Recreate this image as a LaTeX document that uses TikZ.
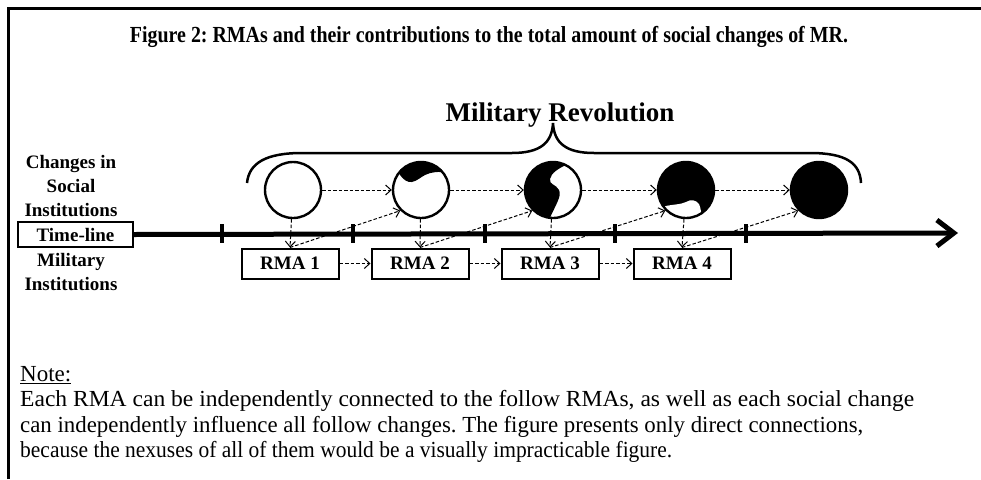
\documentclass[tikz,border=0pt]{standalone}
\usepackage{fontspec}
\usepackage{graphicx}
\setmainfont{Liberation Serif}
\usetikzlibrary{arrows.meta}
\pgfdeclarelayer{bg}
\pgfsetlayers{bg,main}
\frenchspacing
\begin{document}
\begin{tikzpicture}[x=1pt,y=-1pt,
  circ/.style={circle,draw,line width=2.4pt,minimum size=56pt,inner sep=0pt},
  rma/.style={draw,line width=2pt,minimum width=97pt,minimum height=30pt,inner sep=0pt,font=\fontsize{19}{19}\selectfont\bfseries},
  dar/.style={line width=1pt,dash pattern=on 3.5pt off 2pt,-{Straight Barb[length=5.5pt,width=10pt]}},
  lab/.style={align=center,inner sep=0pt,font=\fontsize{19}{24}\selectfont\bfseries},
]
\useasboundingbox (0,0) rectangle (981,479);
% frame
\draw[line width=3pt] (8.5,479) -- (8.5,8.5) -- (981,8.5);
% title
\node[anchor=base,inner sep=0pt,font=\fontsize{23}{23}\selectfont\bfseries] (title) at (489,42)
  {\resizebox{718pt}{\height}{Figure 2: RMAs and their contributions to the total amount of social changes of MR.}};
\node[anchor=base,inner sep=0pt,font=\fontsize{27}{27}\selectfont\bfseries] (mr) at (560,121) {Military Revolution};
% brace
\draw[line width=2.5pt] (247,183) .. controls (249,163) and (266,153) .. (302,153) -- (512,153)
  .. controls (540,153) and (552,143) .. (553,123) .. controls (554,143) and (566,153) .. (594,153)
  -- (810,153) .. controls (846,153) and (860,163) .. (861,183);
% side labels
\node[lab] (soc) at (71,186) {Changes in\\Social\\Institutions};
\node[lab] (mil) at (71,272) {Military\\Institutions};
\node[draw,line width=2pt,minimum width=115pt,minimum height=25pt,inner sep=0pt,font=\fontsize{19}{19}\selectfont\bfseries] (tl) at (75.5,234.5) {Time-line};
% timeline
\coordinate (tend) at (958,233);
\draw[line width=5pt,-{Straight Barb[length=17pt,width=26pt]}] (tl.east) -- (tend);
\foreach \x in {222,353,485,615,746} \draw[line width=4.5pt] (\x,224) -- (\x,243);
% circles
\node[circ] (c1) at (293,190) {};
\node[circ] (c2) at (421,190) {};
\node[circ] (c3) at (553,190) {};
\node[circ] (c4) at (686,190) {};
\node[circ,fill=black] (c5) at (819,190) {};
% partial fills
\begin{pgfonlayer}{bg}
\begin{scope}[shift={(c2)}]
  \clip (0,0) circle (28pt);
  \fill (-23,-18) .. controls (-18,-10) and (-13,-7) .. (-9,-8) .. controls (-4,-9) and (0,-13) .. (4,-15)
    .. controls (10,-18) and (18,-19) .. (26,-17) -- (35,-40) -- (-35,-40) -- cycle;
\end{scope}
\begin{scope}[shift={(c3)}]
  \clip (0,0) circle (28pt);
  \fill (15,-26) .. controls (6,-22) and (-2,-17) .. (-3,-11) .. controls (-4,-5) and (3,-6) .. (6,0)
    .. controls (9,6) and (3,14) .. (-5,32) -- (-40,32) -- (-40,-40) -- (15,-40) -- cycle;
\end{scope}
\begin{scope}[shift={(c4)}]
  \clip (0,0) circle (28pt);
  \fill (0,0) circle (30pt);
  \fill[white] (-24,17) .. controls (-14,14) and (-6,15) .. (0,12) .. controls (5,9) and (10,10) .. (13,14)
    .. controls (15,18) and (15,24) .. (16,27) -- (16,40) -- (-40,40) -- (-40,17) -- cycle;
\end{scope}
\end{pgfonlayer}
% RMA boxes
\node[rma] (r1) at (290,263.5) {RMA 1};
\node[rma] (r2) at (420,263.5) {RMA 2};
\node[rma] (r3) at (550,263.5) {RMA 3};
\node[rma] (r4) at (682,263.5) {RMA 4};
% connectors
\foreach \a/\b in {c1/c2,c2/c3,c3/c4,c4/c5} \draw[dar] (\a) -- (\b);
\foreach \i in {1,2,3,4} \draw[dar] (c\i) -- (r\i.north);
\foreach \a/\b in {r1/c2,r2/c3,r3/c4,r4/c5} \draw[dar] (\a.north) -- (\b.south west);
\foreach \a/\b in {r1/r2,r2/r3,r3/r4} \draw[dar] (\a) -- (\b);
% note
\node[anchor=north west,align=left,inner sep=0pt,font=\fontsize{23}{25.5}\selectfont] (note) at (20,366)
  {\underline{Note:}\\
   \resizebox{894pt}{\height}{Each RMA can be independently connected to the follow RMAs, as well as each social change}\\
   \resizebox{843pt}{\height}{can independently influence all follow changes. The figure presents only direct connections,}\\
   \resizebox{652pt}{\height}{because the nexuses of all of them would be a visually impracticable figure.}};
\end{tikzpicture}
\end{document}
